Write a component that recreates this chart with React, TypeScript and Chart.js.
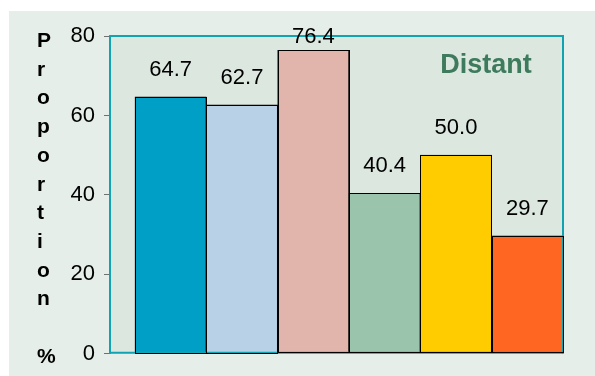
import React, { useEffect, useRef } from "react";
import { Chart, registerables } from "chart.js";

Chart.register(...registerables);

const categories = ["A", "B", "C", "D", "E", "F"];
const values = [64.7, 62.7, 76.4, 40.4, 50.0, 29.7];
const valueLabels = ["64.7", "62.7", "76.4", "40.4", "50.0", "29.7"];
const barColors = ["#00a0c6", "#b8d1e6", "#e1b5ac", "#9bc4ad", "#ffcc00", "#ff6622"];
const yTicks = [0, 20, 40, 60, 80];
const yTitle = ["P", "r", "o", "p", "o", "r", "t", "i", "o", "n", "", "%"];
const panelTitle = "Distant";

const FONT = "'Liberation Sans', Arial, Helvetica, sans-serif";

export default function App() {
  const ref = useRef<HTMLCanvasElement | null>(null);

  useEffect(() => {
    document.body.style.margin = "0";
    const canvas = ref.current;
    if (!canvas) return;

    const decor = {
      id: "decor",
      beforeDraw(chart: any) {
        const { ctx, chartArea: a } = chart;
        ctx.save();
        ctx.fillStyle = "#ffffff";
        ctx.fillRect(0, 0, chart.width, chart.height);
        ctx.fillStyle = "#e5eee8";
        ctx.fillRect(9, 11, chart.width - 9, chart.height - 11);
        ctx.fillStyle = "#dbe7df";
        ctx.fillRect(a.left, a.top, a.right - a.left, a.bottom - a.top);
        ctx.restore();
      },
      afterDatasetsDraw(chart: any) {
        const { ctx, chartArea: a } = chart;
        ctx.save();
        // plot frame (top, right, bottom)
        ctx.strokeStyle = "#12a3b3";
        ctx.lineWidth = 2;
        ctx.beginPath();
        ctx.moveTo(a.left, a.top);
        ctx.lineTo(a.right, a.top);
        ctx.lineTo(a.right, a.bottom);
        ctx.stroke();
        ctx.beginPath();
        ctx.moveTo(a.left, a.bottom - 1);
        ctx.lineTo(a.right, a.bottom - 1);
        ctx.stroke();
        // redraw bar outlines over frame
        const meta = chart.getDatasetMeta(0);
        ctx.strokeStyle = "#000000";
        ctx.lineWidth = 1;
        meta.data.forEach((bar: any) => {
          const half = bar.width / 2;
          ctx.strokeRect(Math.round(bar.x - half) + 0.5, Math.round(bar.y) + 0.5, Math.round(bar.width), Math.round(bar.base - bar.y) - 1);
        });
        // value labels
        ctx.fillStyle = "#000000";
        ctx.font = `22px ${FONT}`;
        ctx.textAlign = "center";
        ctx.textBaseline = "middle";
        meta.data.forEach((bar: any, i: number) => {
          const y = Math.max(bar.y - 27, a.top + 1);
          ctx.fillText(valueLabels[i], bar.x, y);
        });
        // panel title
        ctx.fillStyle = "#3e7a5c";
        ctx.font = `bold 27px ${FONT}`;
        ctx.textBaseline = "alphabetic";
        ctx.fillText(panelTitle, 486, 73);
        // vertical y title
        ctx.fillStyle = "#000000";
        ctx.font = `bold 21px ${FONT}`;
        ctx.textAlign = "left";
        yTitle.forEach((ch, k) => {
          if (ch) ctx.fillText(ch, 37, 47 + 28.7 * k);
        });
        ctx.restore();
      },
    };

    const chart = new Chart(canvas, {
      type: "bar",
      data: {
        labels: categories,
        datasets: [
          {
            data: values.map((v, i) => ({ x: i, y: v })) as any,
            backgroundColor: barColors,
            borderColor: "#000000",
            borderWidth: 1,
            barPercentage: 1,
            categoryPercentage: 1,
          },
        ],
      },
      options: {
        responsive: false,
        animation: false,
        devicePixelRatio: 1,
        layout: { padding: { top: 36, bottom: 13, left: 0, right: 32 } },
        plugins: { legend: { display: false }, tooltip: { enabled: false } },
        scales: {
          x: {
            type: "linear",
            display: false,
            min: -0.85,
            max: 5.5,
            offset: false,
            afterBuildTicks: (scale: any) => {
              scale.ticks = categories.map((_, i) => ({ value: i }));
            },
          },
          y: {
            min: 0,
            max: 80,
            afterFit: (scale: any) => {
              scale.width = 110;
            },
            afterBuildTicks: (scale: any) => {
              scale.ticks = yTicks.map((v) => ({ value: v }));
            },
            border: { display: true, color: "#12a3b3", width: 2 },
            grid: {
              drawOnChartArea: false,
              drawTicks: true,
              tickLength: 6,
              color: "#707070",
            },
            ticks: {
              padding: 9,
              color: "#000000",
              font: { family: FONT, size: 22 },
            },
          },
        },
      },
      plugins: [decor],
    });

    return () => chart.destroy();
  }, []);

  return (
    <div>
      <canvas ref={ref} width={595} height={376} style={{ display: "block" }} />
    </div>
  );
}
